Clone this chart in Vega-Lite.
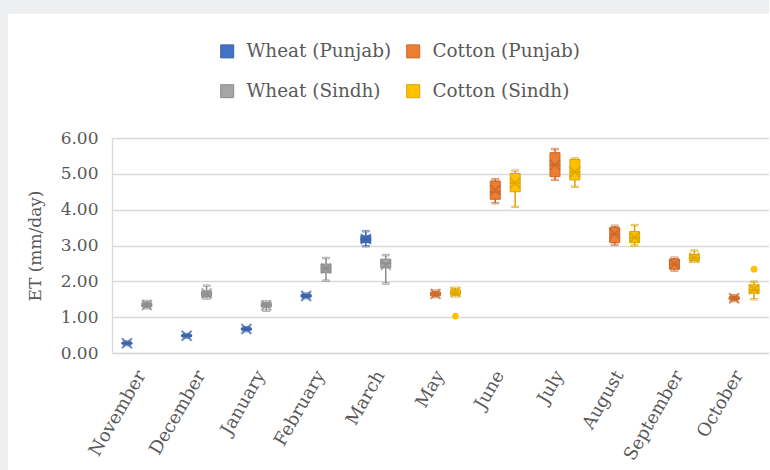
{
  "$schema": "https://vega.github.io/schema/vega-lite/v6.json",
  "autosize": "none",
  "width": 657,
  "height": 215,
  "padding": {"left": 112, "top": 138, "right": 0, "bottom": 117},
  "background": "white",
  "config": {
    "font": "DejaVu Serif",
    "view": {"stroke": null},
    "axis": {"labelFont": "DejaVu Serif", "titleFont": "DejaVu Serif", "labelColor": "#595959", "titleColor": "#595959", "labelFontSize": 17, "titleFontSize": 17, "titleFontWeight": "normal", "ticks": false, "domainColor": "#d9d9d9", "gridColor": "#d9d9d9", "gridWidth": 1.3},
    "legend": {"title": null, "orient": "none", "padding": 0}
  },
  "datasets": {
    "boxes": [
      {"month": "November", "series": "Wheat (Punjab)", "min": 0.22, "q1": 0.25, "median": 0.27, "q3": 0.30, "max": 0.32, "mean": 0.27},
      {"month": "December", "series": "Wheat (Punjab)", "min": 0.43, "q1": 0.46, "median": 0.48, "q3": 0.51, "max": 0.53, "mean": 0.48},
      {"month": "January", "series": "Wheat (Punjab)", "min": 0.61, "q1": 0.64, "median": 0.67, "q3": 0.70, "max": 0.72, "mean": 0.67},
      {"month": "February", "series": "Wheat (Punjab)", "min": 1.53, "q1": 1.56, "median": 1.59, "q3": 1.63, "max": 1.66, "mean": 1.59},
      {"month": "March", "series": "Wheat (Punjab)", "min": 2.98, "q1": 3.08, "median": 3.17, "q3": 3.27, "max": 3.40, "mean": 3.18},
      {"month": "November", "series": "Wheat (Sindh)", "min": 1.25, "q1": 1.29, "median": 1.34, "q3": 1.40, "max": 1.45, "mean": 1.34},
      {"month": "December", "series": "Wheat (Sindh)", "min": 1.52, "q1": 1.58, "median": 1.65, "q3": 1.73, "max": 1.88, "mean": 1.66},
      {"month": "January", "series": "Wheat (Sindh)", "min": 1.18, "q1": 1.28, "median": 1.34, "q3": 1.40, "max": 1.44, "mean": 1.33},
      {"month": "February", "series": "Wheat (Sindh)", "min": 2.02, "q1": 2.24, "median": 2.36, "q3": 2.48, "max": 2.65, "mean": 2.36},
      {"month": "March", "series": "Wheat (Sindh)", "min": 1.94, "q1": 2.38, "median": 2.50, "q3": 2.62, "max": 2.73, "mean": 2.46},
      {"month": "May", "series": "Cotton (Punjab)", "min": 1.56, "q1": 1.60, "median": 1.65, "q3": 1.70, "max": 1.74, "mean": 1.65},
      {"month": "June", "series": "Cotton (Punjab)", "min": 4.18, "q1": 4.29, "median": 4.50, "q3": 4.80, "max": 4.85, "mean": 4.55},
      {"month": "July", "series": "Cotton (Punjab)", "min": 4.83, "q1": 4.92, "median": 5.25, "q3": 5.59, "max": 5.69, "mean": 5.25},
      {"month": "August", "series": "Cotton (Punjab)", "min": 3.02, "q1": 3.08, "median": 3.32, "q3": 3.50, "max": 3.55, "mean": 3.33},
      {"month": "September", "series": "Cotton (Punjab)", "min": 2.30, "q1": 2.34, "median": 2.47, "q3": 2.62, "max": 2.66, "mean": 2.48},
      {"month": "October", "series": "Cotton (Punjab)", "min": 1.45, "q1": 1.49, "median": 1.53, "q3": 1.57, "max": 1.61, "mean": 1.53},
      {"month": "May", "series": "Cotton (Sindh)", "min": 1.58, "q1": 1.62, "median": 1.68, "q3": 1.76, "max": 1.82, "mean": 1.70},
      {"month": "June", "series": "Cotton (Sindh)", "min": 4.08, "q1": 4.50, "median": 4.75, "q3": 5.01, "max": 5.09, "mean": 4.74},
      {"month": "July", "series": "Cotton (Sindh)", "min": 4.64, "q1": 4.83, "median": 5.05, "q3": 5.40, "max": 5.43, "mean": 5.05},
      {"month": "August", "series": "Cotton (Sindh)", "min": 3.00, "q1": 3.08, "median": 3.22, "q3": 3.39, "max": 3.57, "mean": 3.23},
      {"month": "September", "series": "Cotton (Sindh)", "min": 2.55, "q1": 2.58, "median": 2.65, "q3": 2.75, "max": 2.86, "mean": 2.66},
      {"month": "October", "series": "Cotton (Sindh)", "min": 1.50, "q1": 1.67, "median": 1.76, "q3": 1.90, "max": 1.99, "mean": 1.78}
    ],
    "outliers": [
      {"month": "May", "series": "Cotton (Sindh)", "value": 1.03},
      {"month": "October", "series": "Cotton (Sindh)", "value": 2.34}
    ]
  },
  "encoding": {
    "x": {"field": "month", "type": "nominal", "sort": ["November", "December", "January", "February", "March", "May", "June", "July", "August", "September", "October"],
      "scale": {"paddingInner": 0, "paddingOuter": 0},
      "axis": {"title": null, "labelAngle": -60, "labelPadding": 19, "labelFontSize": 18, "grid": false, "domainColor": "#d9d9d9", "domainWidth": 1.3}},
    "xOffset": {"field": "series", "type": "nominal", "scale": {"domain": ["Wheat (Punjab)", "Cotton (Punjab)", "Wheat (Sindh)", "Cotton (Sindh)"], "paddingInner": 0, "paddingOuter": 1.64}}
  },
  "layer": [
    {
      "data": {"name": "boxes"},
      "mark": {"type": "rule", "strokeWidth": 1.5},
      "encoding": {
        "y": {"field": "min", "type": "quantitative", "scale": {"domain": [0, 6]},
          "axis": {"title": "ET (mm/day)", "format": ".2f", "values": [0, 1, 2, 3, 4, 5, 6], "labelPadding": 14, "titlePadding": 16, "domain": true, "domainColor": "#d9d9d9", "domainWidth": 1.3}},
        "y2": {"field": "max"},
        "stroke": {"field": "series", "type": "nominal", "scale": {"domain": ["Wheat (Punjab)", "Cotton (Punjab)", "Wheat (Sindh)", "Cotton (Sindh)"], "range": ["#3A62A8", "#C8682A", "#8C8C8C", "#D9A300"]}}
      }
    },
    {
      "data": {"name": "boxes"},
      "mark": {"type": "tick", "size": 7, "thickness": 1.5},
      "encoding": {"y": {"field": "min", "type": "quantitative", "axis": {"title": "ET (mm/day)", "format": ".2f", "values": [0, 1, 2, 3, 4, 5, 6]}}, "stroke": {"field": "series", "type": "nominal"}, "color": {"value": null}}
    },
    {
      "data": {"name": "boxes"},
      "mark": {"type": "tick", "size": 7, "thickness": 1.5},
      "encoding": {"y": {"field": "max", "type": "quantitative", "axis": {"title": "ET (mm/day)", "format": ".2f", "values": [0, 1, 2, 3, 4, 5, 6]}}, "stroke": {"field": "series", "type": "nominal"}, "color": {"value": null}}
    },
    {
      "data": {"name": "boxes"},
      "mark": {"type": "bar", "width": 10, "strokeWidth": 1},
      "encoding": {
        "y": {"field": "q1", "type": "quantitative", "axis": {"title": "ET (mm/day)", "format": ".2f", "values": [0, 1, 2, 3, 4, 5, 6]}},
        "y2": {"field": "q3"},
        "fill": {"field": "series", "type": "nominal", "scale": {"domain": ["Wheat (Punjab)", "Cotton (Punjab)", "Wheat (Sindh)", "Cotton (Sindh)"], "range": ["#4472C4", "#ED7D31", "#A5A5A5", "#FFC000"]},
          "legend": {"legendX": 106, "legendY": -96, "columns": 2, "direction": "horizontal", "columnPadding": 12, "rowPadding": 21, "symbolType": "square", "symbolSize": 169, "symbolStrokeWidth": 1, "symbolOpacity": 1, "labelFont": "DejaVu Serif", "labelFontSize": 18.4, "labelColor": "#595959", "labelOffset": 10,
            "encode": {"symbols": {"update": {"opacity": {"value": 1}, "fillOpacity": {"value": 1}, "strokeOpacity": {"value": 1}}}}}},
        "stroke": {"field": "series", "type": "nominal"}
      }
    },
    {
      "data": {"name": "boxes"},
      "mark": {"type": "tick", "size": 10, "thickness": 1},
      "encoding": {"y": {"field": "median", "type": "quantitative", "axis": {"title": "ET (mm/day)", "format": ".2f", "values": [0, 1, 2, 3, 4, 5, 6]}}, "stroke": {"field": "series", "type": "nominal"}, "color": {"value": null}}
    },
    {
      "data": {"name": "boxes"},
      "mark": {"type": "point", "shape": "M-1,-1L1,1M-1,1L1,-1", "filled": false, "size": 100, "strokeWidth": 2},
      "encoding": {"y": {"field": "mean", "type": "quantitative", "axis": {"title": "ET (mm/day)", "format": ".2f", "values": [0, 1, 2, 3, 4, 5, 6]}}, "stroke": {"field": "series", "type": "nominal"}}
    },
    {
      "data": {"name": "outliers"},
      "mark": {"type": "circle", "size": 45},
      "encoding": {
        "y": {"field": "value", "type": "quantitative", "axis": {"title": "ET (mm/day)", "format": ".2f", "values": [0, 1, 2, 3, 4, 5, 6]}},
        "fill": {"field": "series", "type": "nominal"},
        "opacity": {"field": "month", "type": "nominal", "scale": {"range": [1, 1]},
          "legend": {"values": ["May"], "legendX": -132, "legendY": -152, "symbolType": "square", "symbolSize": 810000, "symbolFillColor": "transparent", "symbolStrokeColor": "#eeeff1", "symbolStrokeWidth": 28, "labelExpr": "''", "labelFontSize": 1, "labelOffset": 0}}
      }
    }
  ]
}
